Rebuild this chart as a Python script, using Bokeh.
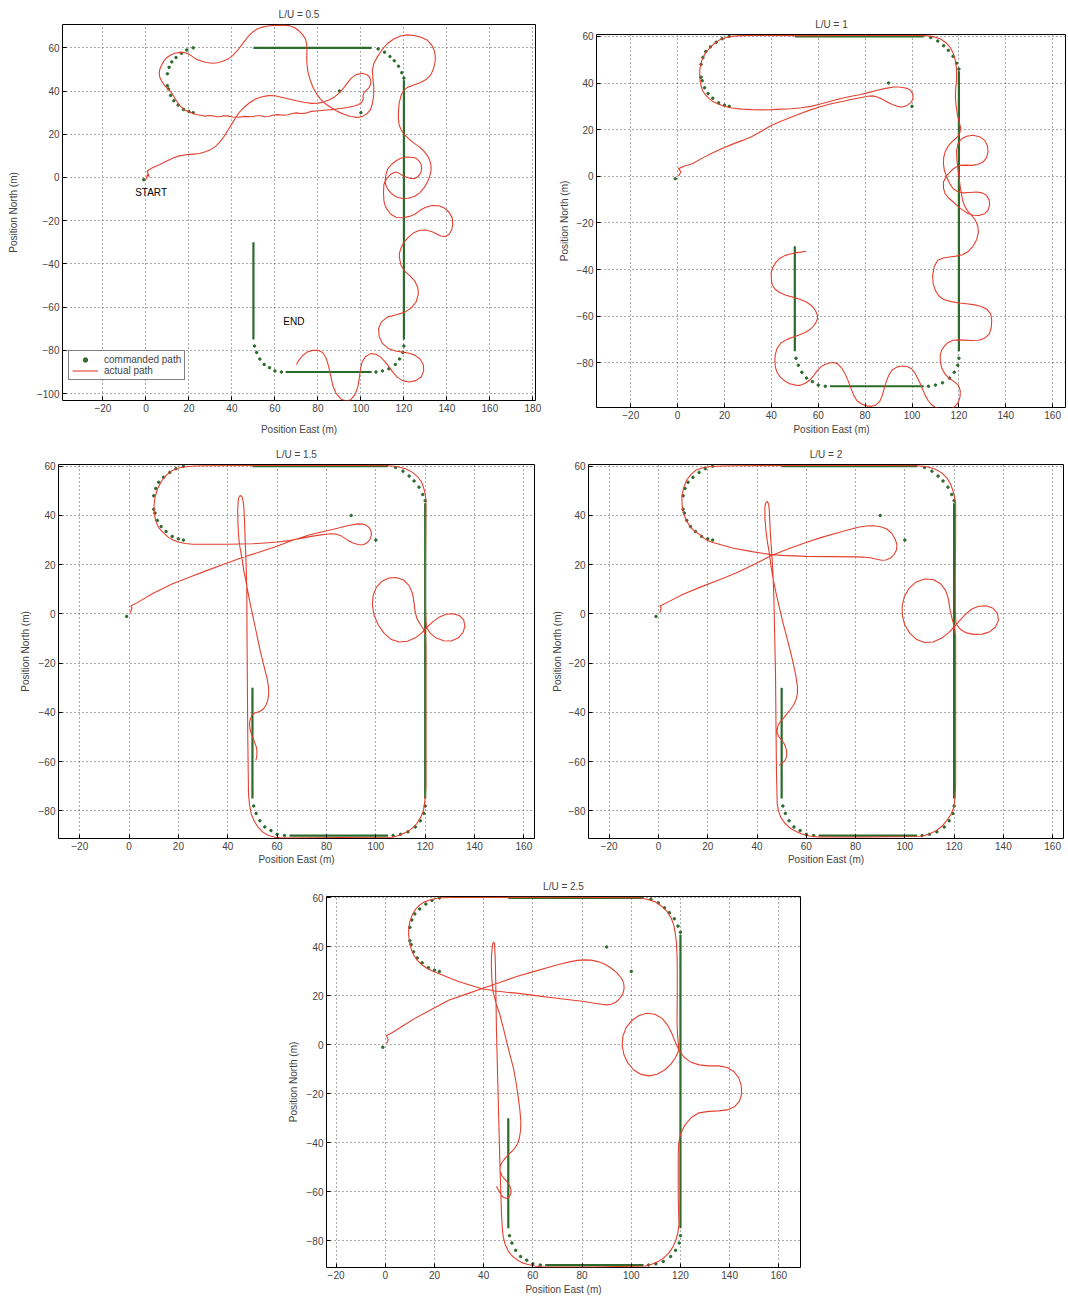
from bokeh.plotting import figure
from bokeh.layouts import column, row, Spacer
from bokeh.models import Range1d, FixedTicker, Legend, LegendItem
from bokeh.core.properties import value
from bokeh.embed import file_html
from bokeh.resources import INLINE

FONT = "Liberation Sans"
RED = "#e4402f"
GREEN = "#2b6b2b"

# ---------------- commanded path (same in every panel) ----------------
cmd_seg_e0 = [50, 120, 105, 50]
cmd_seg_n0 = [60, 45, -90, -75]
cmd_seg_e1 = [105, 120, 65, 50]
cmd_seg_n1 = [60, -75, -90, -30]
cmd_dot_e = [-1, 22, 20, 17.5, 15, 13, 11.5, 10.5, 10, 10, 10.8, 12, 14, 16.5, 19, 22,
             90, 100, 108, 111, 113.5, 115.5, 117.5, 119, 120,
             120, 119.5, 118, 116, 113, 110, 107,
             63, 60, 57.5, 55, 53, 51.5, 50.5]
cmd_dot_n = [-1, 30, 30.5, 31.5, 33.5, 35.5, 38, 41, 42.5, 48, 51, 53.5, 55.5, 57.5, 59, 60,
             40, 30, 59.5, 58, 56, 54, 51.5, 48.5, 46,
             -78, -81, -84, -86.5, -88.5, -89.5, -90,
             -90, -89.5, -88, -86.5, -84, -81, -78]

# ---------------- actual paths: (east, north) pairs ----------------
lu05_pts = [
    (0, -1), (0.8, 1.5), (1.5, 0.3), (0.6, 3), (3, 4.5), (6.5, 6), (9.5, 7.5), (12.6, 9), (15.5, 10),
    (18.8, 10.5), (22, 10.8), (25, 11.1), (28, 12), (30.3, 13), (32.5, 14.5), (34.2, 16.2), (36.2, 18.8),
    (38, 21.6), (40, 24.8), (41.8, 27.8), (43.6, 30.4), (45.7, 32.5), (48.2, 34.6), (51, 36.3),
    (54, 37.4), (57, 37.9), (60, 37.8), (63, 37.1), (66.5, 36.3), (70, 35.5), (73.5, 34.8), (77, 34.3),
    (80, 34.4), (83, 35), (85.7, 36.1), (88, 37.5), (90.2, 39.4), (92, 41.5), (93.8, 43.8), (95.5, 46),
    (97.8, 47.6), (100.5, 48.2), (102.6, 47.7), (104, 46.5), (104.6, 44.8), (104.5, 43), (103.7, 41.5),
    (102.5, 40.4), (101.4, 39.2), (101, 38), (101.1, 36.3), (100.4, 34.8), (99, 33.8), (96.5, 33),
    (93, 32.3), (89.5, 31.8), (86.5, 31.4), (84, 31.2), (80.5, 30.9), (77, 30.6), (74.5, 29.8),
    (72, 29.6), (70, 29.9), (68, 29.6), (66, 29), (64, 28.8), (61.5, 29.1), (58.8, 28.8), (57, 28.2),
    (55, 28.1), (53.5, 28.6), (52, 28.6), (49, 28.1), (46, 28.3), (43, 27.9), (40.3, 28), (38, 28.5),
    (36, 28.6), (34.5, 28.1), (33, 28.1), (31, 28.6), (29, 28.7), (27.5, 28.4), (26.5, 28.6), (24, 29),
    (22, 29.6), (19.5, 30.6), (17.8, 31.4), (16.5, 32.5), (15.2, 34), (14.2, 35.5), (13, 37.5),
    (11.8, 39.4), (10.6, 40.6), (9.5, 41.7), (8.2, 43.2), (7.2, 44.8), (6.5, 46.3), (6.2, 47.9),
    (6.4, 49.9), (7.2, 51.8), (8.2, 53.7), (9.5, 55.3), (11.3, 56.6), (13.4, 57.5), (15.8, 57.9),
    (18, 57.8), (19.6, 57.3), (21, 56.4), (22.8, 55.1), (24.9, 54.1), (28, 53.2), (31.1, 52.9),
    (33.5, 53.1), (35.7, 53.8), (38.2, 54.8), (40.3, 56.4), (42.7, 58.9), (44.9, 61.8), (47.2, 64.8),
    (49.5, 67.2), (51.8, 68.7), (54.2, 69.6), (57.2, 70.2), (60.3, 70.4), (63.5, 70.5), (66.5, 70.3),
    (69, 69.4), (71, 68), (72.9, 66.1), (74.2, 64.1), (74.8, 61.5), (74.9, 58.7), (74.8, 55.5),
    (74.9, 52.5), (75.4, 48.5), (76.5, 44.8), (77.8, 41.5), (79.5, 38.6), (81.2, 36.3), (83, 34.5),
    (86, 32.4), (89, 30.6), (92.1, 29.3), (95.2, 28.2), (98.3, 27.8), (100.9, 28.3), (102.9, 29.6),
    (104.5, 31.5), (105.3, 34), (105.9, 37.8), (106, 41.7), (105.6, 45.6), (105.3, 49.5), (106, 52.8),
    (107.6, 55.7), (109.7, 58.9), (112.2, 61.9), (115.1, 64), (118.4, 65.5), (121.6, 66), (124.7, 65.7),
    (128, 64.9), (130.9, 63.5), (132.8, 61.5), (134, 59), (134.6, 56.3), (134.5, 53.5), (133.8, 50.4),
    (132.5, 47.5), (130.5, 45.5), (127.8, 44), (124.6, 42.8), (121.6, 41.7), (119.8, 40.2), (118.7, 38),
    (117.8, 34.5), (117.5, 31), (117.4, 27.8), (117.7, 24.7), (118.6, 22.2), (120, 20), (122.2, 18),
    (124.5, 16), (127, 14.3), (129, 12.5), (130.8, 10.4), (132, 8), (132.6, 5.5), (132.6, 3), (132, 0.5),
    (131, -2), (129.5, -4.6), (127.5, -7), (124.9, -8.8), (122, -9.6), (119.2, -9.7), (116.5, -9),
    (114.3, -7.5), (112.5, -5.5), (111.5, -3.2), (111.3, -1), (111.7, 1.5), (112.5, 4), (114.1, 5.9),
    (116, 7.5), (118.5, 8.9), (121, 9.5), (123.5, 9.4), (125.5, 9), (127.1, 7.6), (128, 6), (128.2, 4),
    (127.8, 2), (126.6, 0.5), (125, -0.5), (122.8, -0.4), (120.3, 0.5), (118, 1.8), (116, 2.5),
    (114, 1.6), (112.5, 0), (111.3, -1.6), (110.7, -3.1), (110.5, -7), (110.7, -10.8), (111.2, -12.8),
    (112, -14.5), (113.9, -17), (116.5, -18.5), (119.5, -18.6), (122.5, -18), (125.1, -17),
    (127.5, -15.2), (129.9, -13.9), (133, -13), (136.3, -13.1), (139, -14.2), (141.1, -16.2),
    (142.5, -18.8), (142.7, -21.7), (142.2, -24.3), (141.1, -26.3), (139.2, -27.3), (137.1, -27.1),
    (135, -26), (133.1, -25.1), (130.3, -24.3), (127.5, -24.4), (124.5, -25.6), (121.9, -27.8),
    (120, -30), (118.7, -32.5), (117.9, -35), (117.9, -37.1), (118.6, -40.5), (120.3, -43.3),
    (122.8, -45.5), (125.1, -48), (126.5, -51), (126.7, -54.1), (125.7, -57.5), (123.5, -60.3),
    (120.5, -62.3), (116.5, -63.5), (112.5, -64.5), (109.5, -66.8), (108.2, -70), (108.5, -73.6),
    (110, -76.8), (112.5, -79), (116, -80.3), (119.5, -80.8), (122.5, -81.3), (125, -82.2), (127.5, -84),
    (129, -86.5), (129.2, -89.5), (128, -92.3), (125.5, -94), (122.5, -94.6), (119.5, -94), (117, -92.5),
    (115, -90.3), (113, -87.5), (111, -85), (109, -83), (107, -81.8), (104.5, -81.5), (102.2, -82.8),
    (100.6, -85.3), (99.8, -88.5), (99.3, -92.5), (98.6, -96.8), (97.3, -100.4), (95.2, -102.9),
    (93, -103.4), (90.8, -102.6), (88.5, -100), (87, -96.5), (86, -92), (85, -87.5), (83.8, -83.5),
    (82.2, -81), (80, -80), (77.5, -80), (75, -80.8), (72.8, -82.5), (71.2, -84.5), (70, -86.5)]

lu1_pts = [
    (0.4, 0), (1.4, 1.9), (0.4, 3.3), (3, 4.4), (6.3, 5.4), (10.5, 7.8), (14.8, 10), (19, 11.9),
    (23.2, 13.7), (27.5, 15.3), (31.7, 17.1), (35.9, 19.4), (40.1, 21.9), (44.4, 23.7), (48.6, 25.4),
    (52.8, 27), (57, 28.6), (61.3, 29.9), (65.5, 31.1), (69.7, 32), (73.9, 32.9), (77.5, 33.6), (81, 34.3),
    (83.2, 34.5), (85.2, 34), (87.3, 33), (89.4, 31.9), (91.6, 30.8), (93.7, 30), (95.9, 29.7),
    (97.9, 30.4), (99.6, 31.7), (100.4, 33.3), (100.4, 35.2), (99.3, 36.9), (98, 37.7), (96.5, 38),
    (94.4, 38.3), (92.3, 38.3), (88.7, 37.7), (85.2, 36.9), (81.7, 36), (78.2, 35.1), (74.6, 34.4),
    (71.1, 33.7), (67.6, 32.8), (64.1, 31.9), (60.5, 30.9), (57, 30), (52.8, 29.4), (48.6, 29),
    (44.3, 28.8), (40.1, 28.6), (35.9, 28.5), (31.7, 28.6), (27.4, 28.8), (23.2, 29.3), (20.2, 29.9),
    (17.6, 30.9), (15.2, 32), (13.4, 33.3), (11.8, 35), (10.6, 36.9), (9.8, 39.6), (9.4, 42.6),
    (9.5, 46.2), (10.3, 49.7), (11.6, 52.4), (13.4, 54.7), (15.4, 56.7), (17.6, 58.3), (20.3, 59.4),
    (23.2, 60), (27.4, 60.3), (31.7, 60.4), (50, 60.3), (80, 60.4), (104.9, 60.4), (108.7, 60),
    (112, 59), (114.4, 57.4), (116.2, 55.4), (117.5, 53), (118.3, 50.4), (118.8, 47.9), (119, 45.4),
    (119, 41), (118.6, 37.5), (118.5, 34), (118.8, 30.3), (119.3, 26.7), (120, 23.8), (120.7, 21),
    (120.5, 19), (119.5, 17), (118.2, 15.9), (116.9, 14.7), (115.3, 12.8), (114.1, 10.4), (113.5, 8),
    (113.4, 5.4), (113.8, 2.5), (114.8, -0.3), (116, -3), (117.6, -5.3), (119.6, -6.6), (121.8, -7.1),
    (124.7, -6.9), (127.5, -6.7), (129.9, -7.1), (131.7, -8.1), (132.9, -10.1), (133.1, -12.4),
    (132.4, -14.5), (131, -16), (128.6, -16.8), (126, -16.7), (123.8, -15.9), (121.8, -14.6),
    (119.6, -12.9), (117.6, -11), (115.6, -9.3), (114.1, -7.4), (113.4, -5), (113.4, -2.4),
    (114.8, 0.3), (116.9, 2.6), (118.6, 3.9), (120.4, 4.7), (122.9, 4.8), (125.4, 4.7), (128, 5.1),
    (130.3, 6.1), (131.8, 8), (132.4, 10.4), (132.2, 13.1), (131, 15.4), (128.8, 17), (126, 17.6),
    (123.3, 17.2), (121, 16), (119.6, 13.8), (119, 11), (119.1, 7.5), (119.5, 4), (120, 0), (120.5, -4),
    (121, -7), (121.5, -10), (122.4, -12.6), (123.6, -14.7), (125.5, -16.8), (127.1, -19),
    (128.1, -21.5), (128.3, -24), (127.6, -27.1), (126, -30), (124, -32.2), (121.5, -33.6),
    (118.8, -34.2), (116, -34.6), (113.3, -35), (111, -36), (109.5, -38.6), (108.8, -42.5), (109, -46),
    (110, -49), (111.5, -51.3), (113.5, -52.8), (116.8, -53.7), (120, -54.3), (123.2, -54.6),
    (126.2, -55), (129.3, -55.7), (132, -57), (133.6, -59.1), (134, -61.8), (133.8, -64.8), (133, -67.5),
    (131, -69.4), (128.4, -70.3), (125.4, -70.4), (122.4, -70.2), (119.9, -70.1), (117.5, -70.3),
    (115.3, -71.3), (113.8, -72.8), (112.5, -74.8), (112, -77), (112.1, -79.9), (112.8, -82.5),
    (114.1, -84.8), (115.9, -86.7), (118.1, -88.1), (119.8, -89.6), (120.6, -92), (120.5, -94.5),
    (119.7, -96.9), (118.2, -98.8), (116.2, -99.8), (114, -99.9), (111.8, -99.6), (110, -99),
    (108.2, -97.8), (106.8, -96), (105.6, -93.8), (104.6, -91.5), (103.6, -89), (102.5, -86.8),
    (101.3, -84.4), (99.8, -82.5), (97.9, -81.5), (95.7, -81.3), (93.5, -81.8), (91.5, -83),
    (90.1, -85.3), (89, -88), (88.1, -91), (87.3, -94), (86.2, -96.5), (84.8, -97.9), (82.8, -98.6),
    (80.7, -98.4), (78.5, -97.6), (76.5, -96.2), (75.1, -93.8), (74, -91), (72.8, -87.8), (71.5, -84.7),
    (70, -82.2), (68.3, -80.4), (66.5, -79.8), (64.7, -80), (62.8, -80.7), (61, -81.8), (59.4, -83.5),
    (58, -85.5), (56.4, -87.3), (54.5, -88.7), (52.3, -89.6), (50.2, -89.5), (47.9, -88.9),
    (45.8, -87.8), (43.9, -86.2), (42.5, -84.2), (41.7, -81.8), (41.5, -79), (41.7, -76.2),
    (42.5, -73.6), (44.2, -71.3), (46.5, -70), (49, -69), (51.6, -68.1), (54, -67.2), (56, -66),
    (57.8, -64.4), (59, -62.7), (59.7, -60.9), (59.5, -59), (58.6, -57.2), (57.2, -55.5), (55.1, -54),
    (52.5, -52.8), (49.5, -51.9), (46.2, -51), (43.5, -49.8), (41.5, -48.3), (40.3, -46.4), (40, -44),
    (39.9, -41.5), (40.5, -39.3), (41.7, -37.1), (43.5, -35.2), (45.7, -34), (48, -33.3), (50.2, -32.8),
    (52.5, -32.5), (54.9, -32.1)]

lu15_pts = [
    (0.5, 0.5), (1.2, 2.5), (0.7, 3.2), (3.5, 4.7), (10, 8.5), (17.4, 12.2), (24.4, 14.9), (31.4, 17.6),
    (38.4, 20.2), (45.3, 22.7), (52.3, 25), (59.3, 27.3), (66, 29.8), (73.3, 32.2), (77.5, 33.2),
    (81.6, 34.1), (84.5, 34.8), (87.2, 35.5), (90, 36.1), (92.8, 36.6), (94.8, 36.5), (96.3, 35.9),
    (97.5, 34.8), (98.1, 33.6), (98.2, 32), (97.7, 30.5), (96.8, 29.2), (95.6, 28.4), (94.2, 28),
    (92.8, 28.2), (91, 28.7), (89.3, 29.5), (87.5, 30.7), (85.8, 31.8), (83.8, 32.5), (81.6, 32.6),
    (79.3, 32.3), (77, 32), (73.3, 31.4), (69, 30.6), (65, 29.8), (60, 29.2), (55, 28.8), (50, 28.5),
    (45, 28.4), (40, 28.3), (35, 28.3), (30, 28.3), (25.8, 28.3), (22.9, 28.6), (20.2, 29.1), (17.8, 30),
    (16, 31.1), (13.8, 33), (11.9, 35.2), (10.8, 37.8), (10.2, 40.6), (10.1, 44), (10.5, 47.4),
    (11.6, 51), (13.3, 54.2), (15.2, 56.5), (17.4, 58.2), (20.1, 59.3), (23, 59.8), (27, 60.1),
    (31.4, 60.2), (60, 60.3), (90, 60.3), (105.3, 60.2), (109, 59.8), (112.3, 58.9), (115, 57.4),
    (117.2, 55.5), (118.5, 53.6), (119.3, 51.5), (120, 48.8), (120.3, 46), (120.2, 30), (120.1, 15),
    (120.1, 3), (120.3, -3), (120.6, -5.5), (122, -7.8), (124.5, -9.8), (127.5, -10.9), (130.5, -11),
    (133.3, -9.8), (135.3, -7.6), (136.1, -5), (135.6, -2.4), (133.8, -0.6), (131.2, 0.1), (128.5, -0.1),
    (125.8, -1.2), (123.3, -3), (120.7, -5.4), (118.5, -7.8), (115.8, -9.8), (112.8, -11.1),
    (109.5, -11.4), (106.3, -10.4), (103.3, -7.8), (101, -4.5), (99.3, -0.5), (98.6, 3.5), (98.9, 7.5),
    (100.2, 10.8), (102.5, 13.3), (105.3, 14.6), (108.3, 14.8), (111.2, 13.8), (113.5, 11.5),
    (114.9, 8.2), (115.5, 4.5), (115.9, 1), (116.7, -2), (118, -4.2), (119.5, -6.5), (120.2, -9.5),
    (120.3, -14), (120.3, -40), (120.3, -70), (120.1, -73.1), (119.8, -76.5), (119.3, -79.9),
    (118.1, -82.8), (116.5, -85.3), (114.6, -87.2), (112.3, -88.7), (109.6, -89.9), (106.7, -90.7),
    (85, -90.8), (62.1, -91), (59.2, -90.7), (56.5, -90), (54.2, -88.6), (52.3, -86.6), (50.7, -84.1),
    (49.5, -81.2), (48.8, -77.4), (48.4, -73.1), (48.1, -50), (47.8, -9.4), (47.7, 10.9), (47.4, 21),
    (47, 31.2), (46.8, 37.5), (46.5, 43.4), (46.2, 46), (45.7, 47.7), (45, 48.1), (44.5, 47.3),
    (44.2, 45.6), (44, 42), (44.1, 38), (44.3, 33), (44.7, 28.5), (45.3, 25), (45.9, 21.7), (46.5, 17.5),
    (47.3, 13.6), (48.2, 8.8), (49.1, 4.1), (50.1, -0.6), (51.1, -5.3), (52.1, -10), (53.1, -14.8),
    (54.1, -18.9), (55.1, -22.9), (56, -26.5), (56.5, -29.7), (56.6, -32.5), (56.2, -35.1), (55.5, -37),
    (54.5, -38.5), (53.3, -39.4), (52.2, -39.8), (51.2, -40.1), (50.4, -40.5), (49.8, -41.1),
    (49.5, -41.9), (49, -43.2), (48.8, -44.6), (49, -46.7), (49.5, -48.6), (50.2, -50.4), (50.8, -52),
    (51.5, -53.8), (51.8, -55.4), (51.8, -57.5), (51.4, -59.5)]

lu2_pts = [
    (0.5, 0.5), (1.2, 2.5), (0.6, 3.2), (3.6, 4.7), (10, 8), (17.5, 11.1), (24.5, 13.8), (31.5, 16.6),
    (38.5, 20), (45.4, 23.5), (52.3, 26.3), (59.3, 28.8), (66.2, 31.1), (73.2, 33.1), (77.5, 34.3),
    (81.6, 35.3), (84.5, 35.7), (87.2, 35.8), (90.2, 35.4), (92.7, 34.5), (94.8, 32.6), (96.2, 30.1),
    (96.8, 28), (96.6, 26), (95.6, 24.1), (94.1, 22.7), (92.3, 21.9), (90.5, 21.8), (88.2, 22.3),
    (86, 22.8), (83, 23.1), (80, 23.2), (70, 23.3), (60, 23.4), (50, 23.8), (45, 24.2), (38, 25.3),
    (30, 26.8), (25, 28.2), (22.5, 28.9), (20.3, 29.6), (18.5, 30.7), (16.9, 32.1), (14.6, 33.7),
    (12.8, 35.5), (11.2, 38.2), (10.1, 41), (9.6, 44.3), (9.5, 47.7), (10.2, 51.2), (11.5, 54.5),
    (13.3, 56.8), (15.5, 58.6), (18.4, 59.5), (21.7, 59.9), (26, 60.1), (31.5, 60.2), (60, 60.3),
    (90, 60.3), (105.2, 60.2), (108.9, 59.8), (112.2, 58.9), (115, 57.3), (117.1, 55.2), (118.5, 52.9),
    (119.4, 50.5), (120.1, 47.8), (120.6, 45), (120.6, 30), (120.5, 15), (120.5, 3), (120.6, -1.5),
    (120.8, -4), (122.5, -6.2), (125, -7.7), (128, -8.3), (131.5, -8.2), (134.5, -7.2), (136.8, -5.3),
    (138, -2.6), (137.6, 0.2), (135.8, 2.3), (133, 3.3), (130, 3.1), (127.2, 2), (124.8, 0),
    (122.5, -2.4), (120.2, -5), (117.8, -7.6), (115, -9.8), (111.5, -11.4), (108, -11.6), (104.8, -10.4),
    (102, -7.8), (100, -4.5), (99, -0.8), (98.9, 3.2), (99.8, 7), (101.8, 10.5), (104.6, 13), (108, 14.2),
    (111.5, 14), (114.5, 12.3), (116.6, 9.5), (117.7, 6), (118.3, 2), (119.2, -2), (120.2, -5.5),
    (120.6, -9), (120.6, -14), (120.6, -40), (120.6, -70), (120.4, -74.5), (119.9, -78.4),
    (118.8, -81.3), (117.1, -83.8), (115.2, -86.1), (112.9, -87.9), (109.9, -89.4), (106.6, -90.4),
    (85, -90.6), (64.9, -90.6), (61.2, -90.2), (57.9, -89.3), (55.3, -88.1), (53, -86.6), (51.1, -84.7),
    (49.6, -82.5), (48.7, -79.9), (48.2, -77.1), (47.9, -64.8), (47.7, -45), (47.5, -24.1), (47.2, -10),
    (46.9, 4.4), (46.7, 11), (46.4, 17.9), (46, 24.5), (45.5, 31.5), (45.2, 37), (45, 42.3),
    (44.7, 44.6), (44.2, 45.7), (43.6, 45.1), (43.2, 43.7), (43.2, 39), (43.6, 34.2), (44.2, 29.4),
    (45, 24.7), (45.7, 19.2), (46.6, 13.8), (47.9, 7.7), (49.3, 1.7), (50.6, -3.8), (52, -9.2),
    (53.4, -14.6), (54.7, -20), (55.7, -24.8), (56.4, -29.5), (56.4, -32.4), (55.8, -34.9), (54.8, -37.1),
    (53.4, -39), (52, -40.7), (50.7, -42.4), (49.5, -43.7), (48.6, -45.1), (48.2, -46.8), (48.2, -48.5),
    (48.9, -49.9), (50, -51.2), (51.1, -52.8), (51.8, -54.6), (52.1, -56.6), (51.8, -58.6), (51, -59.9),
    (50, -60.7), (49, -61.5)]

lu25_pts = [
    (0.5, 0.5), (1.2, 2), (0.5, 3.8), (2.6, 4.8), (7.4, 7.9), (12.2, 10.9), (19.1, 14.6), (26, 18.3),
    (32.9, 20.7), (39.7, 23.1), (46.6, 25.5), (53.4, 27.9), (60.3, 29.9), (67.2, 31.9), (71.3, 33),
    (75.4, 34), (78.2, 34.5), (80.9, 34.7), (83.7, 34.6), (86.4, 34), (89.3, 32.9), (91.9, 31.3),
    (94.2, 29.4), (96, 27.2), (96.9, 25.2), (97.1, 23.1), (96.6, 20.9), (95.4, 19), (93.8, 17.5),
    (91.9, 16.6), (89.9, 16.3), (87.8, 16.6), (84.4, 17.1), (80.9, 17.7), (74, 18.5), (67.2, 19.3),
    (60.3, 20.2), (53.4, 21.1), (49.3, 21.5), (45.2, 22), (39.7, 22.8), (34.9, 24.2), (30.1, 25.8),
    (26.6, 27.1), (23.2, 28.5), (21.1, 29.3), (19.1, 30.2), (17, 31.3), (15, 32.6), (13, 34.5),
    (11.5, 36.7), (10.5, 39.3), (9.8, 42.1), (9.5, 44.9), (9.5, 47.6), (10, 50.4), (10.9, 53),
    (12.1, 55.1), (13.6, 56.8), (15.5, 58.2), (17.7, 59.1), (20.4, 59.8), (23.2, 60.1), (28, 60.2),
    (34.2, 60.2), (70, 60.3), (102.9, 60.1), (106.5, 59.5), (109.8, 58.4), (112.4, 56.6), (114.6, 54.4),
    (116.2, 51.8), (117.3, 48.9), (117.9, 45.5), (118.3, 42.1), (118.6, 37), (118.7, 32.6), (118.7, 19),
    (118.6, 10), (118.8, 4), (119.2, 0), (119.2, -2.5), (118, -5.2), (116.2, -7.8), (113.6, -10.3),
    (110.5, -12), (107.2, -12.7), (104, -12.1), (101, -10.3), (98.6, -7.4), (97, -4), (96.3, -0.3),
    (96.6, 3.5), (97.9, 7), (100.1, 9.8), (103, 11.9), (106.3, 12.9), (109.6, 12.5), (112.5, 10.8),
    (114.8, 8), (116.5, 4.6), (117.8, 1.3), (119.4, -2.2), (121.4, -5), (124, -7), (127.6, -8.2),
    (131.5, -8.6), (135.5, -8.6), (139, -9.3), (141.8, -11), (143.7, -13.5), (144.7, -16.6), (144.9, -20),
    (144, -23), (142, -25.3), (139, -26.6), (135.5, -27), (131.5, -27.2), (127.5, -27.8), (124.3, -29.8),
    (121.8, -32.8), (120.1, -36.2), (119.3, -40), (119.1, -45), (119.1, -62.5), (119.4, -73.4),
    (118.9, -77), (118, -80.2), (116.8, -82.8), (115.3, -85), (113.4, -86.9), (111.2, -88.4),
    (108.6, -89.6), (105.7, -90.4), (85, -90.8), (64.4, -90.8), (60.8, -90.4), (57.6, -89.7),
    (55.3, -88.9), (53.4, -87.7), (51.5, -86.2), (50, -84.3), (48.8, -81.7), (48, -78.8), (47.6, -75),
    (47.3, -70.7), (46.6, -48.9), (45.9, -21.7), (45.2, 5.4), (44.9, 25.8), (44.7, 35.3), (44.5, 39.5),
    (44.4, 41.5), (44.1, 41.9), (43.8, 41.6), (43.6, 40.8), (43.2, 37), (43.1, 32.6), (43.3, 27),
    (43.8, 21.7), (45, 17), (46.6, 12.2), (48, 6.8), (49.3, 1.4), (50.7, -4.1), (52.1, -9.5),
    (53.2, -15.6), (54.1, -21.7), (54.7, -26.5), (55.1, -31.3), (55, -34.9), (54.5, -38.1), (53.8, -40.3),
    (52.8, -42.1), (51.5, -43.5), (50, -44.9), (48.6, -46.5), (47.3, -48.3), (46.7, -49.9), (46.6, -51.6),
    (47.4, -53.4), (48.6, -55), (49.8, -56.3), (50.7, -57.8), (51.1, -59.2), (51.1, -60.5), (50.7, -61.6),
    (50, -62.5), (49, -62.7), (48, -62.3), (47, -61.2), (46.3, -59.8), (45.7, -58.8), (45.2, -57.8)]

xticks_a = [-20, 0, 20, 40, 60, 80, 100, 120, 140, 160, 180]
yticks_a = [-100, -80, -60, -40, -20, 0, 20, 40, 60]
xticks_b = [-20, 0, 20, 40, 60, 80, 100, 120, 140, 160]
yticks_b = [-80, -60, -40, -20, 0, 20, 40, 60]

start_label = ["START"]
end_label = ["END"]


def make_panel(title, pts, xr, yr, xt, yt, w, h, bl, br, bt, bb, xstand, ystand):
    e = [p[0] for p in pts]
    n = [p[1] for p in pts]
    p = figure(width=w, height=h, output_backend="svg", toolbar_location=None,
               x_range=Range1d(*xr), y_range=Range1d(*yr),
               min_border_left=bl, min_border_right=br, min_border_top=bt, min_border_bottom=bb)
    p.title.text = title
    p.title.align = "center"
    p.title.text_font = FONT
    p.title.text_font_size = "10px"
    p.title.text_font_style = "normal"
    p.title.standoff = 9
    p.outline_line_color = "black"
    p.outline_line_width = 1
    p.background_fill_color = "white"
    p.border_fill_color = "white"
    p.xaxis.ticker = FixedTicker(ticks=xt)
    p.yaxis.ticker = FixedTicker(ticks=yt)
    p.xaxis.axis_label = "Position East (m)"
    p.yaxis.axis_label = "Position North (m)"
    for ax in (p.xaxis, p.yaxis):
        ax.axis_label_text_font = FONT
        ax.axis_label_text_font_size = "10px"
        ax.axis_label_text_font_style = "normal"
        ax.major_label_text_font = FONT
        ax.major_label_text_font_size = "10px"
        ax.major_tick_in = 4
        ax.major_tick_out = 0
        ax.minor_tick_line_color = None
        ax.axis_line_color = None
        ax.major_tick_line_color = "black"
        ax.major_label_standoff = 3
    p.xaxis.axis_label_standoff = xstand
    p.yaxis.axis_label_standoff = ystand
    p.grid.grid_line_color = "#555555"
    p.grid.grid_line_dash = "1 3"
    p.grid.grid_line_width = 1
    p.segment(x0=cmd_seg_e0, y0=cmd_seg_n0, x1=cmd_seg_e1, y1=cmd_seg_n1,
              line_color=GREEN, line_width=2.2)
    dots = p.scatter(cmd_dot_e, cmd_dot_n, size=2.5, color=GREEN)
    line = p.line(e, n, line_color=RED, line_width=1.1, line_join="round")
    return p, dots, line


p1, d1, l1 = make_panel("L/U = 0.5", lu05_pts, (-38.8, 181.2), (-103.2, 70.8), xticks_a, yticks_a,
                        543, 440, 62, 8, 24, 40, 9, 15)
p1.text(x=[2.4], y=[-7], text=start_label, text_font=value(FONT), text_font_size="10px",
        text_align="center", text_baseline="middle", text_color="black")
p1.text(x=[68.8], y=[-66.5], text=end_label, text_font=value(FONT), text_font_size="10px",
        text_align="center", text_baseline="middle", text_color="black")
leg = Legend(items=[LegendItem(label="commanded path", renderers=[d1]),
                    LegendItem(label="actual path", renderers=[l1])],
             location=(6, 20))
leg.label_text_font = FONT
leg.label_text_font_size = "10px"
leg.border_line_color = "black"
leg.border_line_width = 1
leg.padding = 3
leg.spacing = 0
leg.margin = 0
leg.glyph_width = 26
leg.glyph_height = 11
leg.label_height = 11
leg.label_standoff = 6
leg.background_fill_alpha = 1
p1.add_layout(leg, "center")

p2, _, _ = make_panel("L/U = 1", lu1_pts, (-34.6, 165.9), (-99.1, 60.8), xticks_b, yticks_b,
                      523, 430, 53, 0, 24, 33, 2, 4)
p3, _, _ = make_panel("L/U = 1.5", lu15_pts, (-28.6, 164.3), (-91.2, 60.7), xticks_b, yticks_b,
                      540, 432, 58, 6, 24, 34, 1, 5)
p4, _, _ = make_panel("L/U = 2", lu2_pts, (-28.4, 164.4), (-91.2, 60.7), xticks_b, yticks_b,
                      524, 432, 48, 1, 24, 34, 1, 3)
p5, _, _ = make_panel("L/U = 2.5", lu25_pts, (-23.9, 168.8), (-91.0, 60.6), xticks_b, yticks_b,
                      530, 425, 48, 8, 24, 27, 2, 5)

layout = column(row(p1, column(Spacer(width=523, height=10), p2)),
                row(p3, p4),
                row(Spacer(width=278, height=425), p5))
open("out.html", "w").write(file_html(layout, INLINE))
